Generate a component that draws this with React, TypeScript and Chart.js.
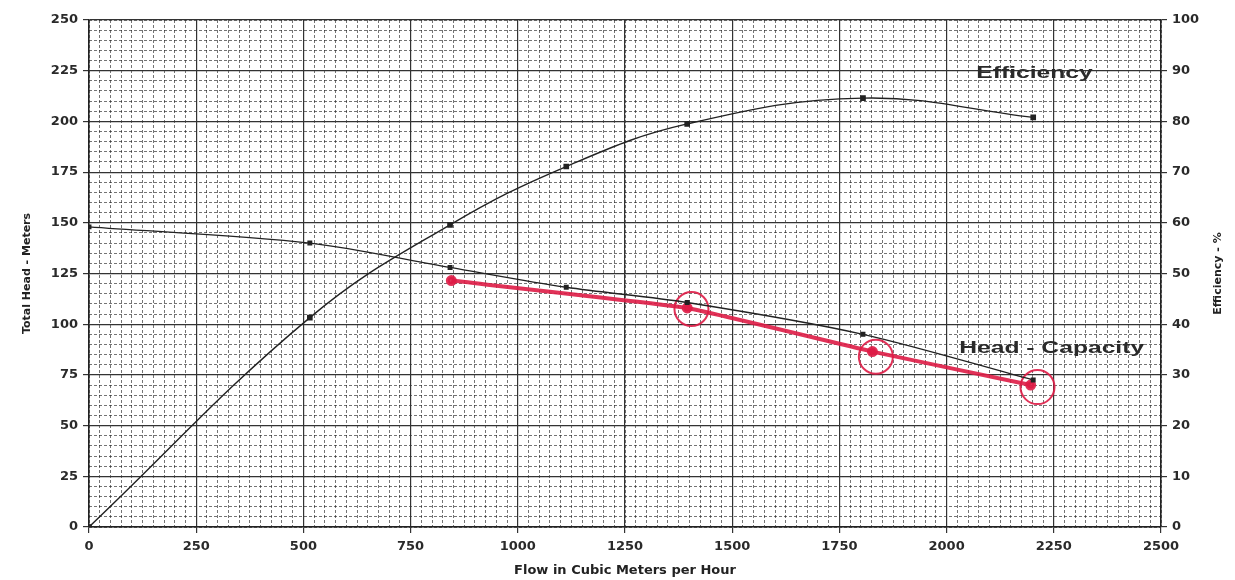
import React, { useEffect, useRef } from 'react';
import { Chart, registerables } from 'chart.js';

Chart.register(...registerables);

// ---- data ----
const flowTest = [0, 515, 842, 1113, 1395, 1805, 2202];
const efficiencyPct = [0, 41.3, 59.6, 71.1, 79.5, 84.6, 80.8];
const headMeters = [148, 140, 128, 118.2, 110.7, 95, 72.5];

const flowMeasured = [845, 1395, 1827, 2196];
const headMeasured = [121.5, 108, 86.5, 70];

const flowCircled = [1405, 1835, 2212];
const headCircled = [107.5, 84, 69];

const flowTicks = [0, 250, 500, 750, 1000, 1250, 1500, 1750, 2000, 2250, 2500];
const headTicks = [0, 25, 50, 75, 100, 125, 150, 175, 200, 225, 250];
const effTicks = [0, 10, 20, 30, 40, 50, 60, 70, 80, 90, 100];

const curveLabels = ['Efficiency', 'Head - Capacity'];
const curveLabelFlow = [2205, 2245];
const curveLabelHead = [223.5, 88];

const xTitle = 'Flow in Cubic Meters per Hour';
const yTitle = 'Total Head - Meters';
const y2Title = 'Efficiency - %';

const RED = 'rgba(222, 28, 70, 0.9)';
const INK = '#222222';
const TICK_FONT = { family: '"DejaVu Sans", sans-serif', size: 13, weight: 'bold' as const };

const labelPlugin = {
  id: 'curveLabels',
  afterDatasetsDraw(chart: any) {
    const { ctx } = chart;
    const xs = chart.scales.x;
    const ys = chart.scales.y;
    ctx.save();
    ctx.fillStyle = '#2a2a2a';
    ctx.font = 'bold 17px "Liberation Sans", Arial, sans-serif';
    ctx.textAlign = 'center';
    ctx.textBaseline = 'middle';
    curveLabels.forEach((t, i) => {
      const px = xs.getPixelForValue(curveLabelFlow[i]);
      const py = ys.getPixelForValue(curveLabelHead[i]);
      ctx.save();
      ctx.translate(px, py);
      ctx.scale(1.45, 1);
      ctx.fillText(t, 0, 0);
      ctx.restore();
    });
    // right axis title, reading bottom-to-top like the left one
    const y2 = chart.scales.y2;
    ctx.font = 'bold 11px "DejaVu Sans", sans-serif';
    ctx.fillStyle = '#222';
    ctx.save();
    ctx.translate(y2.right - 17, (y2.top + y2.bottom) / 2);
    ctx.rotate(-Math.PI / 2);
    ctx.fillText(y2Title, 0, 0);
    ctx.restore();
    ctx.restore();
  },
};

export default function App() {
  const ref = useRef<HTMLCanvasElement | null>(null);

  useEffect(() => {
    if (!ref.current) return;
    const pts = (xs: number[], ys: number[]) => xs.map((x, i) => ({ x, y: ys[i] }));

    const chart = new Chart(ref.current, {
      type: 'line',
      data: {
        datasets: [
          {
            label: 'Efficiency',
            data: pts(flowTest, efficiencyPct),
            yAxisID: 'y2',
            borderColor: INK,
            backgroundColor: INK,
            borderWidth: 1.4,
            tension: 0.4,
            pointStyle: 'rect',
            pointRadius: 3,
          },
          {
            label: 'Head - Capacity',
            data: pts(flowTest, headMeters),
            yAxisID: 'y',
            borderColor: INK,
            backgroundColor: INK,
            borderWidth: 1.4,
            tension: 0.3,
            pointStyle: 'rect',
            pointRadius: 2.5,
          },
          {
            label: 'Measured',
            data: pts(flowMeasured, headMeasured),
            yAxisID: 'y',
            borderColor: RED,
            backgroundColor: RED,
            borderWidth: 4,
            tension: 0.1,
            pointRadius: 3.5,
          },
          {
            label: 'Circled',
            data: pts(flowCircled, headCircled),
            yAxisID: 'y',
            showLine: false,
            borderColor: RED,
            backgroundColor: 'rgba(0,0,0,0)',
            pointBorderColor: RED,
            pointBackgroundColor: 'rgba(0,0,0,0)',
            pointBorderWidth: 2,
            pointRadius: 17,
          },
        ],
      },
      options: {
        animation: false,
        responsive: true,
        maintainAspectRatio: false,
        layout: { padding: { top: 20, left: 0, right: 0, bottom: 0 } },
        plugins: { legend: { display: false }, tooltip: { enabled: false } },
        scales: {
          xMinor: {
            type: 'linear',
            position: 'bottom',
            min: 0,
            max: 2500,
            z: -1,
            ticks: { display: false, stepSize: 25, maxTicksLimit: 200, autoSkip: false },
            grid: { color: 'rgba(30,30,30,0.62)', lineWidth: 1, drawTicks: false },
            border: { display: false, dash: [3, 2] },
            afterFit: (s: any) => { s.height = 0; },
          },
          yMinor: {
            type: 'linear',
            position: 'left',
            min: 0,
            max: 250,
            z: -1,
            ticks: { display: false, stepSize: 5, maxTicksLimit: 200, autoSkip: false },
            grid: { color: 'rgba(30,30,30,0.62)', lineWidth: 1, drawTicks: false },
            border: { display: false, dash: [3, 2] },
            afterFit: (s: any) => { s.width = 0; },
          },
          x: {
            type: 'linear',
            position: 'bottom',
            min: flowTicks[0],
            max: flowTicks[flowTicks.length - 1],
            afterBuildTicks: (s: any) => { s.ticks = flowTicks.map((v) => ({ value: v })); },
            ticks: { color: '#2a2a2a', font: TICK_FONT, padding: 6, maxRotation: 0, callback: (v: any) => String(v) },
            grid: { color: '#333', lineWidth: 1.2, tickLength: 6 },
            border: { color: INK, width: 1.5 },
            title: {
              display: true,
              text: xTitle,
              color: '#222',
              font: { family: '"DejaVu Sans", sans-serif', size: 13, weight: 'bold' },
              padding: { top: 0, bottom: 2 },
            },
            afterFit: (s: any) => { s.height = 53; },
          },
          y: {
            type: 'linear',
            position: 'left',
            min: headTicks[0],
            max: headTicks[headTicks.length - 1],
            afterBuildTicks: (s: any) => { s.ticks = headTicks.map((v) => ({ value: v })); },
            ticks: { color: '#2a2a2a', font: TICK_FONT, padding: 5, callback: (v: any) => String(v) },
            grid: { color: '#333', lineWidth: 1.2, tickLength: 6 },
            border: { color: INK, width: 1.5 },
            title: {
              display: true,
              text: yTitle,
              color: '#222',
              font: { family: '"DejaVu Sans", sans-serif', size: 11, weight: 'bold' },
              padding: { top: 21, bottom: 0 },
            },
            afterFit: (s: any) => { s.width = 89; },
          },
          y2: {
            type: 'linear',
            position: 'right',
            min: effTicks[0],
            max: effTicks[effTicks.length - 1],
            afterBuildTicks: (s: any) => { s.ticks = effTicks.map((v) => ({ value: v })); },
            ticks: { color: '#2a2a2a', font: TICK_FONT, padding: 5, callback: (v: any) => String(v) },
            grid: { drawOnChartArea: false, color: '#333', lineWidth: 1.2, tickLength: 6 },
            border: { color: INK, width: 1.5 },
            title: { display: false, text: y2Title },
            afterFit: (s: any) => { s.width = 74; },
          },
        },
      } as any,
      plugins: [labelPlugin],
    });
    return () => chart.destroy();
  }, []);

  return (
    <div style={{ position: 'fixed', left: 0, top: 0, width: 1235, height: 580, background: '#fff' }}>
      <canvas ref={ref} />
    </div>
  );
}
